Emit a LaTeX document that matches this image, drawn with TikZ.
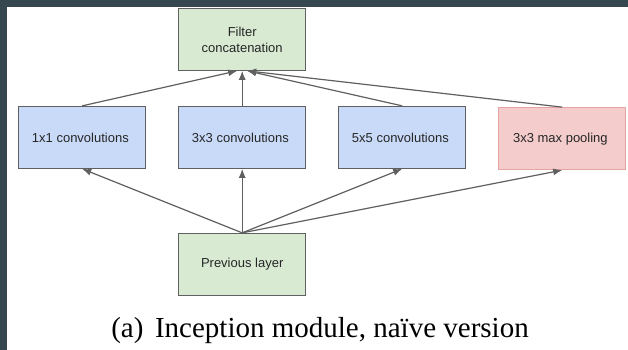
\documentclass[tikz,border=0pt]{standalone}
\usepackage{fontspec}
\setmainfont{Liberation Serif}
\setsansfont{Liberation Sans}
\newfontfamily\capfont{Liberation Serif}
\usetikzlibrary{matrix,positioning,arrows.meta}

\definecolor{framegray}{HTML}{37474F}
\definecolor{convblue}{HTML}{C9DAF8}
\definecolor{concatgreen}{HTML}{D9EAD3}
\definecolor{poolred}{HTML}{F4CCCC}
\definecolor{poolborder}{HTML}{E6A3A3}
\definecolor{edgegray}{HTML}{606060}

\tikzset{
  box/.style={draw=edgegray, line width=1pt, minimum width=127pt, minimum height=62pt,
    font=\sffamily\fontsize{13}{16}\selectfont, text=black!85, align=center, inner sep=2pt},
  conv/.style={box, fill=convblue},
  concat/.style={box, fill=concatgreen},
  pool/.style={box, fill=poolred, draw=poolborder},
  link/.style={draw=edgegray, line width=1.2pt, -{Latex[length=9pt,width=7pt]}}
}

\begin{document}
\begin{tikzpicture}[x=1pt,y=-1pt]

\fill[framegray] (0,0) rectangle (628,350);
\fill[white] (7,7) rectangle (628,350);
\useasboundingbox (0,0) rectangle (628,350);

\matrix (m)[matrix of nodes, column sep=32pt, anchor=west, inner sep=0pt, nodes={conv}] at (18,138)
{
1x1 convolutions & 3x3 convolutions & 5x5 convolutions & |[pool]| 3x3 max pooling \\
};

\node[concat, above=35pt of m-1-2] (concat) {Filter\\concatenation};
\node[concat, below=64pt of m-1-2] (prev) {Previous layer};

% branches into the concatenation
\foreach \i/\dx in {1/-5,2/0,3/5,4/5}
  \draw[link] (m-1-\i.north) -- ([xshift=\dx pt]concat.south);

% previous layer feeds every branch
\foreach \i in {1,...,4}
  \draw[link] (prev.north) -- (m-1-\i.south);

\node[anchor=base, font=\capfont\fontsize{29}{34}\selectfont] (cap) at (320,337) {(a)\hspace{0.4em}Inception module, naïve version};

\end{tikzpicture}
\end{document}
